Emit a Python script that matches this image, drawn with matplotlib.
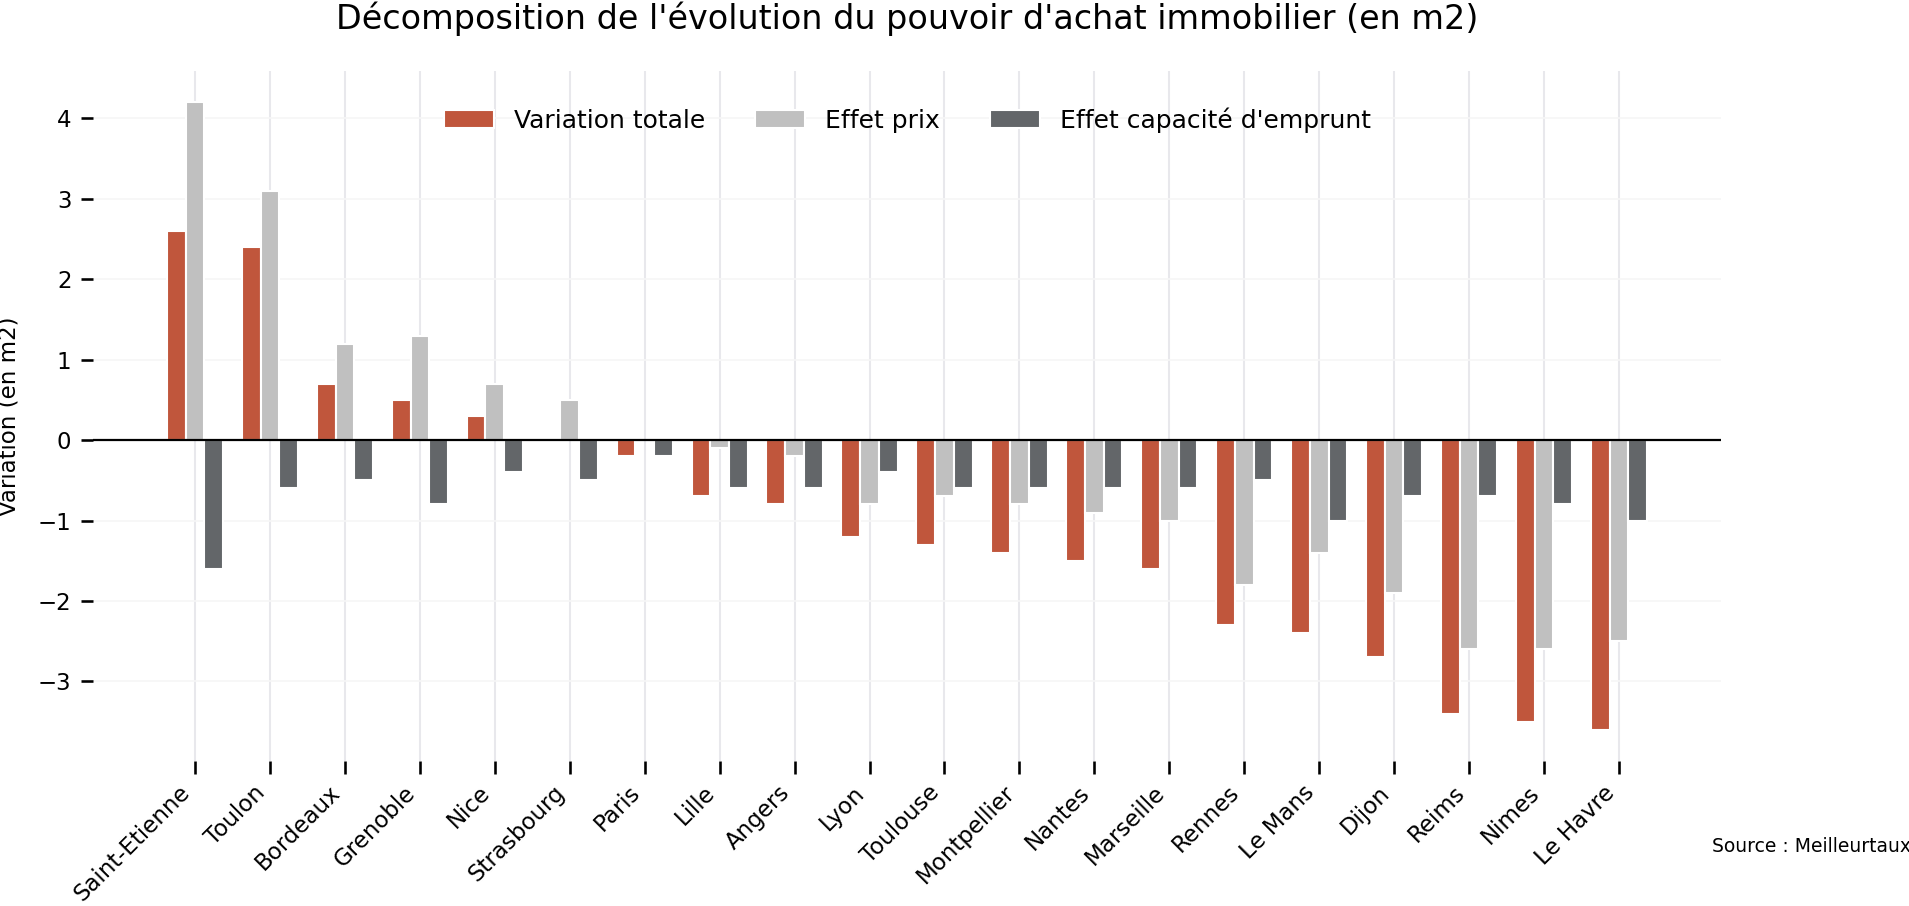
import matplotlib
matplotlib.use("Agg")
import matplotlib.pyplot as plt
import numpy as np

villes = ["Saint-Etienne", "Toulon", "Bordeaux", "Grenoble", "Nice", "Strasbourg",
          "Paris", "Lille", "Angers", "Lyon", "Toulouse", "Montpellier", "Nantes",
          "Marseille", "Rennes", "Le Mans", "Dijon", "Reims", "Nimes", "Le Havre"]
variation_totale = [2.6, 2.4, 0.7, 0.5, 0.3, 0.0, -0.2, -0.7, -0.8, -1.2, -1.3, -1.4,
                    -1.5, -1.6, -2.3, -2.4, -2.7, -3.4, -3.5, -3.6]
effet_prix = [4.2, 3.1, 1.2, 1.3, 0.7, 0.5, 0.0, -0.1, -0.2, -0.8, -0.7, -0.8,
              -0.9, -1.0, -1.8, -1.4, -1.9, -2.6, -2.6, -2.5]
effet_capacite = [-1.6, -0.6, -0.5, -0.8, -0.4, -0.5, -0.2, -0.6, -0.6, -0.4, -0.6,
                  -0.6, -0.6, -0.6, -0.5, -1.0, -0.7, -0.7, -0.8, -1.0]
series_labels = ["Variation totale", "Effet prix", "Effet capacité d'emprunt"]

c_red = "#c0563c"
c_light = "#c0c0c0"
c_dark = "#636669"

plt.rcParams.update({
    "font.family": "DejaVu Sans",
    "font.size": 18,
    "xtick.labelsize": 16.5,
    "ytick.labelsize": 16.5,
    "legend.fontsize": 18,
    "axes.labelsize": 16.5,
    "xtick.major.size": 9,
    "ytick.major.size": 9,
    "xtick.major.width": 1.875,
    "ytick.major.width": 1.875,
    "xtick.major.pad": 5.5,
    "ytick.major.pad": 6.5,
})

fig = plt.figure(figsize=(19.09, 9.06), dpi=100)
ax = fig.add_axes([93/1909, 1 - 761/906, (1721-93)/1909, (761-71)/906])

x = np.arange(len(villes))
w = 0.25
ax.bar(x - w, variation_totale, w, color=c_red, edgecolor="white", linewidth=1.5,
       label=series_labels[0], zorder=3)
ax.bar(x, effet_prix, w, color=c_light, edgecolor="white", linewidth=1.5,
       label=series_labels[1], zorder=3)
ax.bar(x + w, effet_capacite, w, color=c_dark, edgecolor="white", linewidth=1.5,
       label=series_labels[2], zorder=3)

ax.axhline(0, color="black", linewidth=1.6, zorder=4)

ax.set_xticks(x)
ax.set_xticklabels(villes, rotation=45, ha="right")
ax.set_yticks([-3, -2, -1, 0, 1, 2, 3, 4])
ax.set_yticklabels(["\u22123", "\u22122", "\u22121", "0", "1", "2", "3", "4"])

for s in ax.spines.values():
    s.set_visible(False)
ax.grid(axis="x", color="#e8e8ec", linewidth=1.5, zorder=0)
ax.grid(axis="y", color="#f6f6f6", linewidth=1.2, zorder=0)
ax.set_axisbelow(True)

ax.set_ylabel("Variation (en m2)")
ax.yaxis.set_label_coords(-0.0448, 0.5)
ax.set_title("Décomposition de l'évolution du pouvoir d'achat immobilier (en m2)",
             fontsize=24, pad=30)

ax.legend(loc="upper center", ncol=3, frameon=False, bbox_to_anchor=(0.5, 0.98))

fig.text(1712/1909, 1 - 852/906, "Source : Meilleurtaux", fontsize=13.5,
         ha="left", va="baseline")

fig.savefig("out.png", dpi=100)
